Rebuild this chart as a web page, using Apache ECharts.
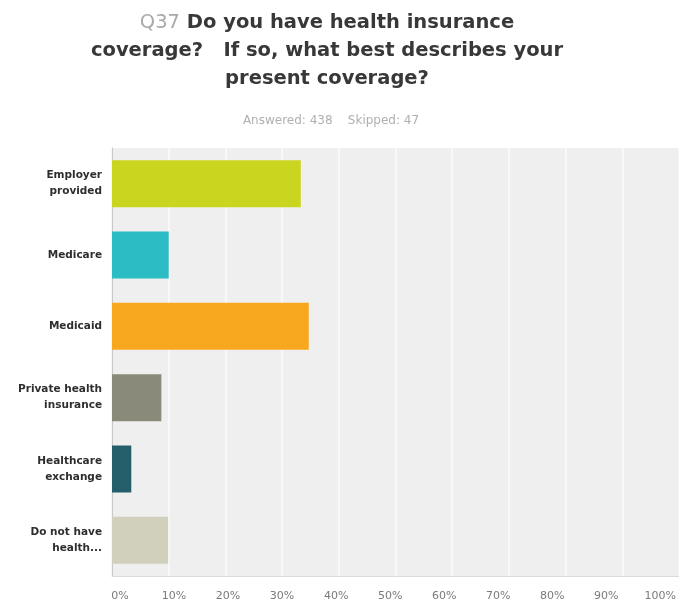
<!DOCTYPE html>
<html>
<head>
<meta charset="utf-8">
<script src="https://cdn.jsdelivr.net/npm/echarts@6/dist/echarts.min.js"></script>
<style>
  html, body { margin: 0; padding: 0; background: #fff; }
  #chart { width: 679px; height: 606px; }
</style>
</head>
<body>
<div id="chart"></div>
<script>
// Survey answer choices (top to bottom) and share of respondents, in percent
const categories = [
  'Employer\nprovided',
  'Medicare',
  'Medicaid',
  'Private health\ninsurance',
  'Healthcare\nexchange',
  'Do not have\nhealth...'
];
const percents = [33.3, 10.0, 34.7, 8.7, 3.4, 9.9];
const barColors = ['#cad51f', '#2bbcc4', '#f7a81e', '#898a79', '#245e6b', '#d1d0bd'];
const tickValues = [0, 10, 20, 30, 40, 50, 60, 70, 80, 90, 100];
const answered = 438;
const skipped = 47;

const FONT = 'DejaVu Sans, Verdana, sans-serif';

const chart = echarts.init(document.getElementById('chart'));

chart.setOption({
  animation: false,
  backgroundColor: '#ffffff',
  title: [
    {
      text: '{q|Q37} Do you have health insurance\ncoverage?   If so, what best describes your\npresent coverage?',
      left: 322,
      top: 4,
      textAlign: 'center',
      textStyle: {
        fontFamily: FONT,
        fontSize: 19.5,
        fontWeight: 'bold',
        color: '#383838',
        lineHeight: 28,
        align: 'center',
        rich: {
          q: {
            fontFamily: FONT,
            fontSize: 19.5,
            fontWeight: 'normal',
            color: '#a9a9a9',
            lineHeight: 28
          }
        }
      }
    },
    {
      text: 'Answered: ' + answered + '    Skipped: ' + skipped,
      left: 326,
      top: 110,
      textAlign: 'center',
      textStyle: {
        fontFamily: FONT,
        fontSize: 12,
        fontWeight: 'normal',
        color: '#b0b0b0'
      }
    }
  ],
  grid: [
    {
      left: 112, right: 0, top: 148, height: 428,
      show: true, backgroundColor: '#efefef', borderWidth: 0
    },
    {
      left: 120, right: 17, top: 148, height: 428,
      show: false
    }
  ],
  xAxis: [
    {
      type: 'value', gridIndex: 0, min: 0, max: 100, interval: 10,
      axisLine: { show: true, lineStyle: { color: '#dcdcdc', width: 1 } },
      axisTick: { show: false },
      axisLabel: { show: false },
      splitLine: { show: true, lineStyle: { color: '#f8f8f8', width: 2 } }
    },
    {
      type: 'value', gridIndex: 1, min: 0, max: 100, interval: 10,
      axisLine: { show: false },
      axisTick: { show: false },
      splitLine: { show: false },
      axisLabel: {
        show: true,
        margin: 15,
        formatter: function (v) { return tickValues.indexOf(v) >= 0 ? v + '%' : ''; },
        fontFamily: FONT,
        fontSize: 11,
        color: '#7a7a7a'
      }
    }
  ],
  yAxis: [
    {
      type: 'category', gridIndex: 0, data: categories, inverse: true,
      axisLine: { show: true, lineStyle: { color: '#c8c8c8', width: 1 } },
      axisTick: { show: false },
      splitLine: { show: false },
      axisLabel: {
        margin: 10,
        align: 'right',
        fontFamily: FONT,
        fontSize: 10.5,
        fontWeight: 'bold',
        color: '#2e2e2e',
        lineHeight: 16
      }
    },
    {
      type: 'category', gridIndex: 1, data: categories, inverse: true, show: false
    }
  ],
  series: [
    {
      type: 'bar',
      xAxisIndex: 0,
      yAxisIndex: 0,
      barWidth: 47,
      data: percents.map(function (v, i) {
        return { value: v, itemStyle: { color: barColors[i] } };
      })
    }
  ]
});
</script>
</body>
</html>
